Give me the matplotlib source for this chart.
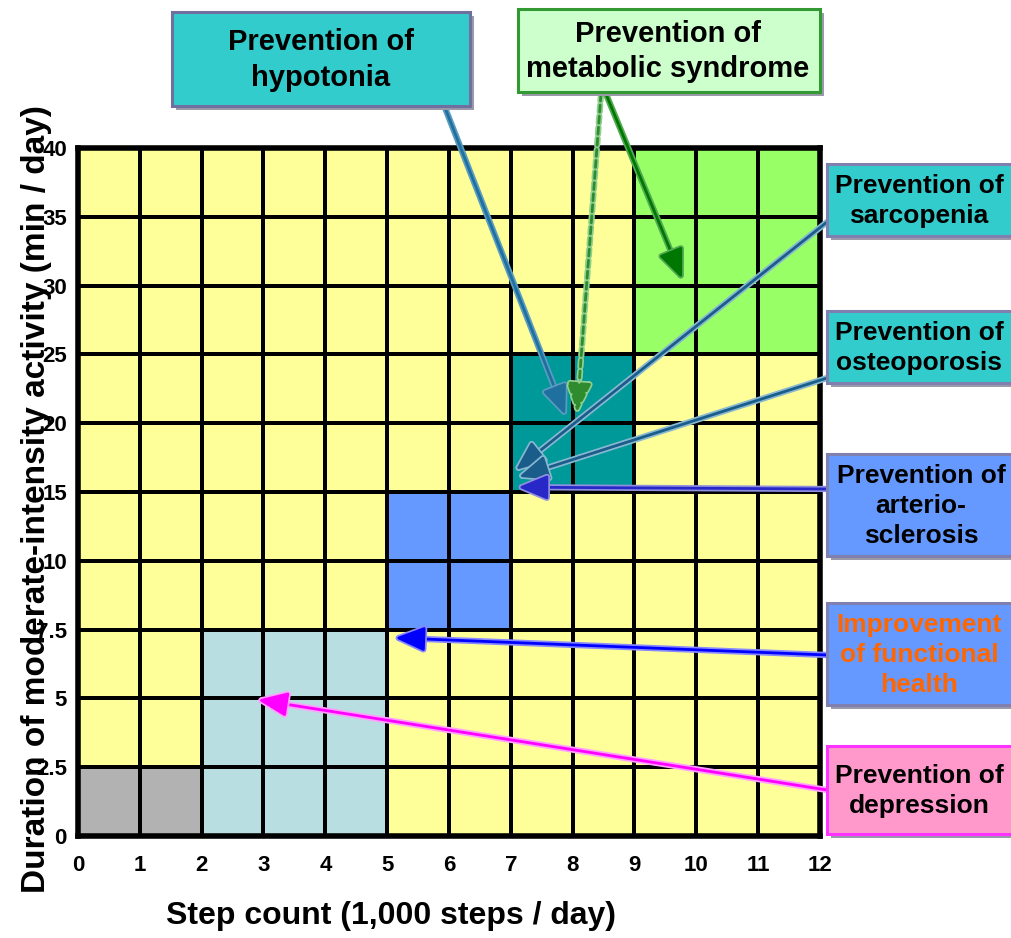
import matplotlib
matplotlib.use('Agg')
import matplotlib.pyplot as plt
import numpy as np
from matplotlib.colors import ListedColormap
from matplotlib.patches import Rectangle
import matplotlib.patheffects as pe

plt.rcParams['font.family'] = ['Liberation Sans', 'DejaVu Sans']
plt.rcParams['font.weight'] = 'bold'

# ---------------- data ----------------
step_ticks = list(range(13))
step_labels = [str(s) for s in step_ticks]
minute_ticks = [0, 2.5, 5, 7.5, 10, 15, 20, 25, 30, 35, 40]
minute_labels = ['0', '2.5', '5', '7.5', '10', '15', '20', '25', '30', '35', '40']

zone_names = ['inactive', 'depression', 'arteriosclerosis', 'sarcopenia etc.', 'metabolic syndrome']
zone_step_lo = [0, 2, 5, 7, 9]
zone_step_hi = [2, 5, 7, 9, 12]
zone_min_lo = [0, 0, 7.5, 15, 25]
zone_min_hi = [2.5, 7.5, 15, 25, 40]
zone_colors = ['#B2B2B2', '#B9DEE2', '#6699FF', '#009999', '#99FF66']
base_color = '#FFFF99'

box_labels = ['Prevention of\nhypotonia',
              'Prevention of\nmetabolic syndrome',
              'Prevention of\nsarcopenia',
              'Prevention of\nosteoporosis',
              'Prevention of\narterio-\nsclerosis',
              'Improvement\nof functional\nhealth',
              'Prevention of\ndepression']

# arrow targets (steps in 1000/day, minutes/day)
arrow_box = [0, 1, 1, 2, 3, 4, 5, 6]
arrow_steps = [7.88, 8.07, 9.77, 7.08, 7.13, 7.12, 5.13, 2.91]
arrow_minutes = [20.6, 20.8, 30.5, 16.6, 16.1, 15.35, 7.2, 4.95]

# ---------------- layout / style ----------------
W, H = 1012, 938
fig = plt.figure(figsize=(W / 100, H / 100), dpi=100)
fig.patch.set_facecolor('white')

def fx(px):
    return px / W

def fy(py):
    return 1 - py / H

ax_l, ax_r, ax_t, ax_b = 78, 820, 148, 836
ax = fig.add_axes([fx(ax_l), fy(ax_b), (ax_r - ax_l) / W, (ax_b - ax_t) / H])

n_cols = len(step_ticks) - 1
n_rows = len(minute_ticks) - 1
mat = np.zeros((n_rows, n_cols), dtype=int)
for k in range(len(zone_names)):
    for i in range(n_rows):
        mmid = (minute_ticks[i] + minute_ticks[i + 1]) / 2
        for j in range(n_cols):
            smid = (step_ticks[j] + step_ticks[j + 1]) / 2
            if zone_step_lo[k] <= smid <= zone_step_hi[k] and zone_min_lo[k] <= mmid <= zone_min_hi[k]:
                mat[i, j] = k + 1

cmap = ListedColormap([base_color] + zone_colors)
ax.pcolormesh(np.array(step_ticks), np.arange(n_rows + 1), mat, cmap=cmap,
              vmin=-0.5, vmax=len(zone_colors) + 0.5,
              edgecolors='black', linewidth=1.6)
ax.set_xlim(step_ticks[0], step_ticks[-1])
ax.set_ylim(0, n_rows)
ax.set_xticks(step_ticks)
ax.set_xticklabels(step_labels, fontsize=16, fontweight='bold')
ax.set_yticks(np.arange(n_rows + 1))
ax.set_yticklabels(minute_labels, fontsize=16, fontweight='bold')
ax.tick_params(axis='x', length=0, pad=14)
ax.tick_params(axis='y', length=0, pad=8)
for s in ax.spines.values():
    s.set_linewidth(4)
    s.set_color('black')

ax.set_xlabel('Step count (1,000 steps / day)', fontsize=23, fontweight='bold')
ax.xaxis.set_label_coords(0.4225, -0.095)
ax.set_ylabel('Duration of moderate-intensity activity (min / day)', fontsize=24, fontweight='bold')
ax.yaxis.set_label_coords(-0.035, 0.49)

# ---------------- boxes ----------------
box_px = [(172, 12, 470, 106),
          (518, 9, 820, 92),
          (827, 164, 1030, 236),
          (827, 311, 1030, 383),
          (827, 454, 1030, 556),
          (827, 603, 1030, 705),
          (827, 746, 1030, 834)]
box_face = ['#33CCCC', '#CCFFCC', '#33CCCC', '#33CCCC', '#6699FF', '#6699FF', '#FF99CC']
box_edge = ['#7070A0', '#339933', '#8080B0', '#8080B0', '#8080B0', '#8080B0', '#FF33FF']
box_text_color = ['black', 'black', 'black', 'black', 'black', '#FF6600', 'black']
box_fontsize = [21, 21, 19, 19, 19, 19, 19]
text_cx = [321, 668, 919, 919, 921, 919, 919]

for (x0, y0, x1, y1), fc, ec in zip(box_px, box_face, box_edge):
    sh = Rectangle((fx(x0 + 4), fy(y1 + 4)), (x1 - x0) / W, (y1 - y0) / H,
                   transform=fig.transFigure, facecolor='#9A9AAA', edgecolor='none', zorder=5)
    fig.add_artist(sh)
    r = Rectangle((fx(x0), fy(y1)), (x1 - x0) / W, (y1 - y0) / H,
                  transform=fig.transFigure, facecolor=fc, edgecolor=ec, linewidth=2.2, zorder=6)
    fig.add_artist(r)
for lab, (x0, y0, x1, y1), tc, fs, cx in zip(box_labels, box_px, box_text_color, box_fontsize, text_cx):
    fig.text(fx(cx), fy((y0 + y1) / 2 + 1), lab, ha='center', va='center', fontsize=fs,
             fontweight='bold', color=tc, linespacing=1.32, zorder=7)

# ---------------- arrows ----------------
arrow_start_px = [(440, 95), (601, 94), (606, 94), (827, 222), (827, 378),
                  (827, 489), (827, 655), (827, 790)]
arrow_color = ['#1F6F9F', '#2E8B2E', '#007700', '#1A5C8A', '#1A5C8A', '#2828C8', '#0000FF', '#FF00FF']
arrow_glow = ['#5A9CC0', '#8FCF8F', '#55AA55', '#88B8D0', '#88B8D0', '#9090E0', '#8888FF', '#FFA0FF']
arrow_ls = ['-', (0, (2.5, 1.5)), '-', '-', '-', '-', '-', '-']

row_idx = np.arange(n_rows + 1)
for b, s, m, (sx, sy), c, g, ls in zip(arrow_box, arrow_steps, arrow_minutes, arrow_start_px,
                                       arrow_color, arrow_glow, arrow_ls):
    yi = np.interp(m, minute_ticks, row_idx)
    ax.annotate('', xy=(s, yi), xycoords='data',
                xytext=(fx(sx), fy(sy)), textcoords='figure fraction',
                annotation_clip=False, zorder=10,
                arrowprops=dict(arrowstyle='-|>,head_length=1.2,head_width=0.5',
                                mutation_scale=15, color=c, lw=2.0, linestyle=ls,
                                shrinkA=0, shrinkB=0,
                                path_effects=[pe.withStroke(linewidth=4.5, foreground=g)]))

fig.savefig('out.png', dpi=100, facecolor='white')
